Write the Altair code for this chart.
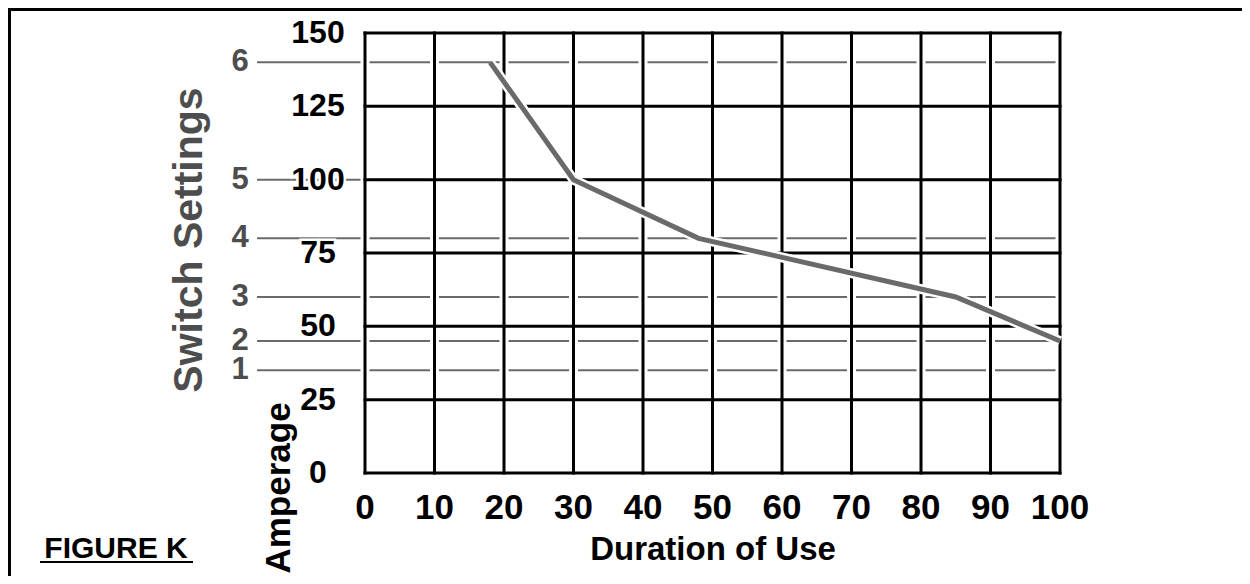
import altair as alt
import pandas as pd

# ---- data ----
duration = [18, 30, 48, 85, 100]
amperage = [140, 100, 80, 60, 45]

setting_labels = ["6", "5", "4", "3", "2", "1"]
setting_amps = [140, 100, 80, 60, 45, 35]

x_ticks = [0, 10, 20, 30, 40, 50, 60, 70, 80, 90, 100]
y_ticks = [0, 25, 50, 75, 100, 125, 150]

FONT = "Liberation Sans"
W, H = 695, 440

xs = alt.Scale(domain=[0, 100], nice=False, zero=False)
ys = alt.Scale(domain=[0, 150], nice=False, zero=False)

curve_df = pd.DataFrame({"d": duration, "a": amperage, "o": list(range(len(duration)))})
set_df = pd.DataFrame({"s": setting_labels, "a": setting_amps})
xt_df = pd.DataFrame({"v": x_ticks, "t": [str(v) for v in x_ticks]})
yt_df = pd.DataFrame({"v": y_ticks, "t": [str(v) for v in y_ticks]})
one = pd.DataFrame({"k": [0]})

X = lambda f: alt.X(f, scale=xs, axis=None)
Y = lambda f: alt.Y(f, scale=ys, axis=None)

# gray switch-setting lines
setting_lines = alt.Chart(set_df).mark_rule(color="#6a6a6a", strokeWidth=2).encode(
    y=Y("a:Q"), x=alt.value(-108), x2=alt.value(W)
)
# white gaps around the vertical grid lines
white_v = alt.Chart(xt_df).mark_rule(color="white", strokeWidth=9).encode(
    x=X("v:Q"), y=alt.value(0), y2=alt.value(H)
)
black_v = alt.Chart(xt_df).mark_rule(color="black", strokeWidth=3, strokeCap="square").encode(
    x=X("v:Q"), y=alt.value(0), y2=alt.value(H)
)
black_h = alt.Chart(yt_df).mark_rule(color="black", strokeWidth=3, strokeCap="square").encode(
    y=Y("v:Q"), x=alt.value(0), x2=alt.value(W)
)
curve_halo = alt.Chart(curve_df).mark_line(color="white", strokeWidth=10).encode(
    x=X("d:Q"), y=Y("a:Q"), order="o:Q"
)
curve = alt.Chart(curve_df).mark_line(color="#6a6a6a", strokeWidth=5).encode(
    x=X("d:Q"), y=Y("a:Q"), order="o:Q"
)

# amperage tick labels with white halo
ylab_halo = alt.Chart(yt_df).mark_text(
    font=FONT, fontSize=32, fontWeight="bold", color="white", stroke="white",
    strokeWidth=5, align="center", baseline="middle"
).encode(y=Y("v:Q"), x=alt.value(-47), text="t:N")
ylab = alt.Chart(yt_df).mark_text(
    font=FONT, fontSize=32, fontWeight="bold", color="black",
    align="center", baseline="middle"
).encode(y=Y("v:Q"), x=alt.value(-47), text="t:N")

xlab = alt.Chart(xt_df).mark_text(
    font=FONT, fontSize=35, fontWeight="bold", color="black",
    align="center", baseline="middle"
).encode(x=X("v:Q"), y=alt.value(475), text="t:N")

setlab = alt.Chart(set_df).mark_text(
    font=FONT, fontSize=31, fontWeight="bold", color="#4d4d4d",
    align="center", baseline="middle"
).encode(y=Y("a:Q"), x=alt.value(-125), text="s:N")

x_title = alt.Chart(one).mark_text(
    text="Duration of Use", font=FONT, fontSize=33, fontWeight="bold", color="black",
    align="center", baseline="alphabetic"
).encode(x=alt.value(348), y=alt.value(527))

sw_title = alt.Chart(one).mark_text(
    text="Switch Settings", font=FONT, fontSize=41, fontWeight="bold", color="#4d4d4d",
    align="center", baseline="alphabetic", angle=270
).encode(x=alt.value(-163), y=alt.value(207))

amp_title = alt.Chart(one).mark_text(
    text="Amperage", font=FONT, fontSize=35, fontWeight="bold", color="black",
    align="center", baseline="alphabetic", angle=270
).encode(x=alt.value(-75), y=alt.value(455))

fig = alt.Chart(one).mark_text(
    text="FIGURE K", font=FONT, fontSize=30, fontWeight="bold", color="black",
    align="center", baseline="alphabetic"
).encode(x=alt.value(-249), y=alt.value(525))
fig_ul = alt.Chart(one).mark_rule(color="black", strokeWidth=2).encode(
    x=alt.value(-325), x2=alt.value(-172), y=alt.value(529)
)

border_top = alt.Chart(one).mark_rule(color="black", strokeWidth=3).encode(
    x=alt.value(-357), x2=alt.value(W + 190), y=alt.value(-23.5)
)
border_left = alt.Chart(one).mark_rule(color="black", strokeWidth=3).encode(
    x=alt.value(-355.5), y=alt.value(-25), y2=alt.value(H + 110)
)

chart = alt.layer(
    setting_lines, white_v, black_v, black_h, curve_halo, curve,
    ylab_halo, ylab, xlab, setlab, x_title, sw_title, amp_title, fig, fig_ul,
    border_top, border_left
).properties(
    width=W, height=H,
    autosize=alt.AutoSizeParams(type="none"),
    padding={"left": 357, "top": 25, "right": 182, "bottom": 103},
    background="white",
).configure_view(strokeWidth=0)

chart.save("out.html", embed_options={"renderer": "svg", "actions": False})
